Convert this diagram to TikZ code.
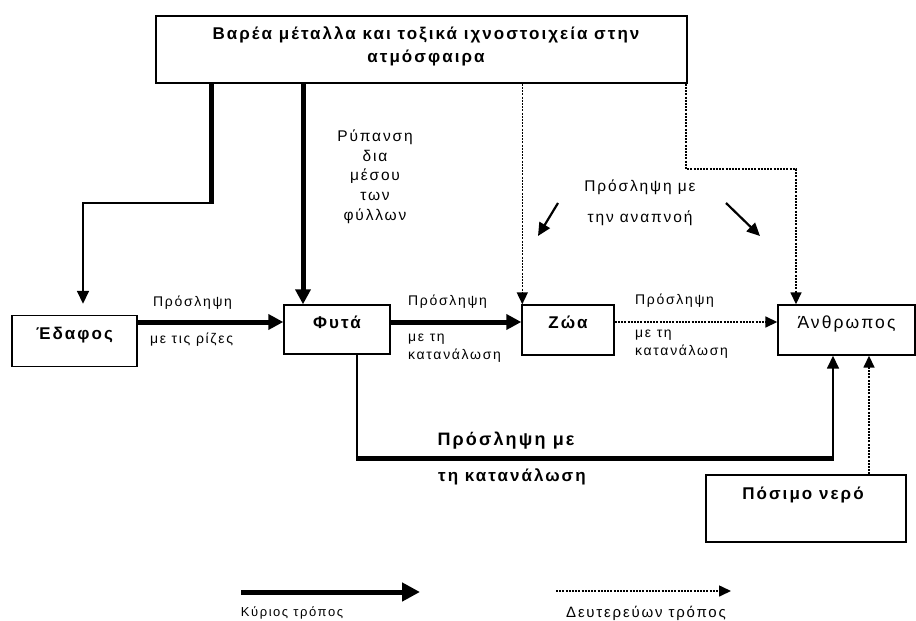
\documentclass[tikz,border=0pt]{standalone}
\usepackage{fontspec}
\setmainfont{Liberation Sans}
\newfontfamily\gr[LetterSpace=12]{Liberation Sans}
\usetikzlibrary{arrows.meta,calc}
\tikzset{
  box/.style={draw=black, line width=1.4pt, fill=white, inner sep=0pt},
  boxtxt/.style={text height=12pt, text depth=15pt},
  lbl/.style={font=\gr\fontsize{14}{16}\selectfont, inner sep=0pt},
  llbl/.style={font=\gr\fontsize{15.5}{17}\selectfont, inner sep=0pt},
  blbl/.style={font=\gr\bfseries\fontsize{17}{19}\selectfont, inner sep=0pt},
  mainln/.style={line width=5pt},
  mainarr/.style={line width=5pt, -{Triangle[length=15pt,width=15pt]}},
  legarr/.style={line width=5pt, -{Triangle[length=18pt,width=18pt]}},
  thinln/.style={line width=1.6pt},
  thinarr/.style={line width=1.6pt, -{Triangle[length=13pt,width=12pt]}},
  secarr/.style={line width=1.6pt, dash pattern=on 2pt off 1.2pt, -{Triangle[length=12pt,width=11pt]}},
  breath/.style={line width=2.2pt, -{Triangle[length=13pt,width=12pt]}},
}
\begin{document}
\begin{tikzpicture}[x=1pt,y=-1pt]
\useasboundingbox (0,0) rectangle (916,621);
% boxes
\node[box, minimum width=531pt, minimum height=67pt] (top) at (421.5,49.5) {};
\node[blbl] (topT1) at (426,35) {Βαρέα μέταλλα και τοξικά ιχνοστοιχεία στην};
\node[blbl] (topT2) at (426,58) {ατμόσφαιρα};
\node[box, boxtxt, minimum width=125pt, minimum height=51pt, font=\gr\bfseries\fontsize{17}{19}\selectfont] (edafos) at (74.5,341) {Έδαφος};
\node[box, boxtxt, minimum width=106pt, minimum height=49pt, font=\gr\bfseries\fontsize{17}{19}\selectfont] (fyta) at (337,329.5) {Φυτά};
\node[box, boxtxt, minimum width=92pt, minimum height=50pt, font=\gr\bfseries\fontsize{17}{19}\selectfont] (zoa) at (568,330) {Ζώα};
\node[box, boxtxt, minimum width=137pt, minimum height=50pt, font=\gr\fontsize{17.5}{19}\selectfont] (anthr) at (846.5,330) {Άνθρωπος};
\node[box, minimum width=200pt, minimum height=67pt] (nero) at (806,508.5) {};
\node[blbl] (neroT) at (803,495) {Πόσιμο νερό};

% top -> edafos
\coordinate (j1) at (211,203);
\coordinate (j2) at (83,203);
\draw[mainln] (top.south -| j1) -- (j1);
\draw[thinarr, shorten >=11pt] ([xshift=2.5pt]j1) -- (j2) -- (j2 |- edafos.north);
% top -> fyta
\coordinate (j3) at (303,0);
\draw[mainarr] (top.south -| j3) -- (fyta.north -| j3);
% edafos -> fyta
\draw[mainarr] ([yshift=19pt]edafos.east) -- ([yshift=7.5pt]fyta.west);
% fyta -> zoa
\draw[mainarr] ([yshift=7.5pt]fyta.east) -- ([yshift=8pt]zoa.west);
% zoa -> anthr
\draw[secarr] ([yshift=8pt]zoa.east) -- ([yshift=8pt]anthr.west);
% top -> zoa
\coordinate (j4) at ([xshift=1pt]zoa.north west);
\draw[secarr] (top.south -| j4) -- (j4);
% top -> anthr
\coordinate (d1) at (686,169);
\coordinate (d2) at (796,169);
\draw[secarr] (top.south -| d1) -- (d1) -- (d2) -- (d2 |- anthr.north);
% fyta -> anthr
\coordinate (c1) at (357,458);
\coordinate (c2) at (833,458);
\draw[thinln] (fyta.south -| c1) -- ([yshift=2pt]c1);
\draw[mainln] ([xshift=-0.8pt]c1) -- ([xshift=0.8pt]c2);
\draw[thinarr] (c2) -- (c2 |- anthr.south);
% nero -> anthr
\coordinate (c3) at (869,0);
\draw[secarr] (nero.north -| c3) -- (anthr.south -| c3);
% breathing arrows
\coordinate (b1s) at (558,203); \coordinate (b1e) at (538,236);
\coordinate (b2s) at (726,203); \coordinate (b2e) at (760,236);
\draw[breath] (b1s) -- (b1e);
\draw[breath] (b2s) -- (b2e);

% labels
\node[llbl] (rp1) at (375,137) {Ρύπανση};
\node[llbl] (rp2) at (375,156) {δια};
\node[llbl] (rp3) at (375,176) {μέσου};
\node[llbl] (rp4) at (375,196) {των};
\node[llbl] (rp5) at (375,216) {φύλλων};
\node[llbl] (an1) at (640,187) {Πρόσληψη με};
\node[llbl] (an2) at (640,218) {την αναπνοή};
\node[lbl, anchor=west] (l1a) at (153,303) {Πρόσληψη};
\node[lbl, anchor=west] (l1b) at (150,340) {με τις ρίζες};
\node[lbl, anchor=west] (l2a) at (408,302) {Πρόσληψη};
\node[lbl, anchor=west] (l2b) at (408,339) {με τη};
\node[lbl, anchor=west] (l2c) at (408,356) {κατανάλωση};
\node[lbl, anchor=west] (l3a) at (635,301) {Πρόσληψη};
\node[lbl, anchor=west] (l3b) at (635,335) {με τη};
\node[lbl, anchor=west] (l3c) at (635,352) {κατανάλωση};
\node[blbl, font=\gr\bfseries\fontsize{18}{20}\selectfont] (l4a) at (506,441) {Πρόσληψη με};
\node[blbl] (l4b) at (512,477) {τη κατανάλωση};

% legend
\coordinate (g1) at (241,592); \coordinate (g2) at (420,592);
\coordinate (g3) at (556,591); \coordinate (g4) at (731,591);
\draw[legarr] (g1) -- (g2);
\draw[secarr] (g3) -- (g4);
\node[lbl, font=\gr\fontsize{13}{15}\selectfont] (gl1) at (292,613) {Κύριος τρόπος};
\node[lbl, font=\gr\fontsize{15}{17}\selectfont] (gl2) at (646,613) {Δευτερεύων τρόπος};
\end{tikzpicture}
\end{document}
